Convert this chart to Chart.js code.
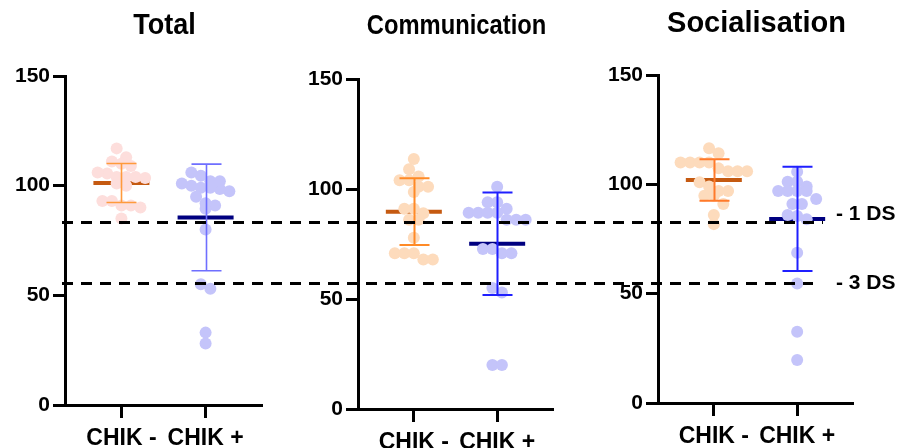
<!DOCTYPE html>
<html>
<head>
<meta charset="utf-8">
<script src="https://cdn.jsdelivr.net/npm/chart.js@4"></script>
<style>
  html, body { margin: 0; padding: 0; background: #fff; }
  body { width: 899px; height: 448px; position: relative; overflow: hidden; }
  .panel { position: absolute; top: 0; height: 448px; }
</style>
</head>
<body>
<div class="panel" style="left:0;width:300px"><canvas id="c0"></canvas></div>
<div class="panel" style="left:300px;width:290px"><canvas id="c1"></canvas></div>
<div class="panel" style="left:590px;width:309px"><canvas id="c2"></canvas></div>
<script>
// Data
const groups = ["CHIK -", "CHIK +"];
const panelTitles = ["Total", "Communication", "Socialisation"];
const yTicks = [0, 50, 100, 150];

const totalNeg = [117, 113, 110, 111, 109, 103.5, 104, 105.5, 106, 104, 104, 100, 101, 93, 91, 93, 90, 91, 85];
const totalPos = [100, 102, 97.5, 98.5, 101, 104.5, 106, 102, 99, 99, 95, 91, 89.5, 92, 80, 53, 55, 33, 28];
const commNeg = [113.6, 109, 104, 105.7, 104, 101, 101, 98.6, 91, 91, 89, 86, 86, 77.8, 68, 70.8, 70.8, 70.8, 68];
const commPos = [101, 94, 94, 91, 89.2, 89.2, 89.2, 89.2, 86, 86, 86, 70.8, 72.7, 70.8, 72.7, 53, 55, 20, 20];
const socNeg = [116.5, 114.2, 110, 110, 110, 110, 106, 106, 107.3, 106, 101, 97, 97, 99, 94.8, 94.8, 91, 86, 81.8];
const socPos = [105.8, 101.2, 101.2, 97, 97, 97, 99, 97, 91, 91, 93.3, 84, 85.5, 86, 68.7, 54.7, 32.6, 19.7];

// mean and SD as drawn (CHIK -, CHIK +)
const totalMean = [101.2, 85.5];
const totalSd = [8.9, 24.3];
const commMean = [89.7, 75.1];
const commSd = [15.2, 23.3];
const socMean = [102, 84.2];
const socSd = [9.5, 23.8];

// reference lines (in Total panel units)
const dsLevels = [83.5, 55.5];
const dsLabels = ["- 1 DS", "- 3 DS"];

const FONT = "'Liberation Sans', Arial, sans-serif";

const panels = [
  {
    title: panelTitles[0], neg: totalNeg, pos: totalPos, mean: totalMean, sd: totalSd,
    left: 0, pad: { top: 76, right: 38 }, yW: 65, xH: 43,
    titleSize: 30, titleScale: 0.9, titleY: 34,
    dotColors: ["#fddedc", "#c4c4fa"], errColors: ["#ff9a3c", "#6f6fff"], errW: 1.6
  },
  {
    title: panelTitles[1], neg: commNeg, pos: commPos, mean: commMean, sd: commSd,
    left: 300, pad: { top: 79, right: 37 }, yW: 58, xH: 39,
    titleSize: 27, titleScale: 0.88, titleY: 34,
    dotColors: ["#fddbbc", "#c4c4fa"], errColors: ["#ff8a26", "#1f1fff"], errW: 2
  },
  {
    title: panelTitles[2], neg: socNeg, pos: socPos, mean: socMean, sd: socSd,
    left: 590, pad: { top: 75, right: 46 }, yW: 68, xH: 45,
    titleSize: 29, titleScale: 1.0, titleY: 32,
    dotColors: ["#fddbbc", "#c4c4fa"], errColors: ["#ff7a2a", "#1f1fff"], errW: 2
  }
];
const meanColors = ["#c55a11", "#000080"];
const dashStart = 62;
const dashEnd = [823, 813];

const charts = [];

// beeswarm rows: points closer than binPx vertically share a row
function swarm(values, cat, chart, spacingPx, binPx) {
  const xs = chart.scales.x, ys = chart.scales.y;
  const unitX = 1 / (xs.getPixelForValue(2) - xs.getPixelForValue(1));
  const order = values.map((v, i) => i).sort((a, b) => values[b] - values[a]);
  const pts = new Array(values.length);
  let row = [];
  const flush = () => {
    row.forEach((idx, k) => {
      pts[idx] = { x: cat + (k - (row.length - 1) / 2) * spacingPx * unitX, y: values[idx] };
    });
    row = [];
  };
  order.forEach(i => {
    if (row.length && ys.getPixelForValue(values[i]) - ys.getPixelForValue(values[row[0]]) >= binPx) flush();
    row.push(i);
  });
  flush();
  return pts;
}

function makeOverlay(p, idx) {
  return {
    id: "overlay" + idx,
    beforeDatasetsDraw(chart) {
      const ctx = chart.ctx, xs = chart.scales.x, ys = chart.scales.y;
      ctx.save();
      p.mean.forEach((m, i) => {
        const cx = xs.getPixelForValue(i + 1), y = ys.getPixelForValue(m);
        ctx.strokeStyle = meanColors[i];
        ctx.lineWidth = 4;
        ctx.beginPath();
        ctx.moveTo(cx - 28, y);
        ctx.lineTo(cx + 28, y);
        ctx.stroke();
      });
      ctx.restore();
    },
    afterDatasetsDraw(chart) {
      const ctx = chart.ctx, xs = chart.scales.x, ys = chart.scales.y;
      ctx.save();
      p.mean.forEach((m, i) => {
        const cx = Math.round(xs.getPixelForValue(i + 1)) + 0.5;
        const yTop = ys.getPixelForValue(m + p.sd[i]);
        const yBot = ys.getPixelForValue(m - p.sd[i]);
        ctx.strokeStyle = p.errColors[i];
        ctx.lineWidth = p.errW;
        ctx.beginPath();
        ctx.moveTo(cx, yTop); ctx.lineTo(cx, yBot);
        ctx.moveTo(cx - 15, yTop); ctx.lineTo(cx + 15, yTop);
        ctx.moveTo(cx - 15, yBot); ctx.lineTo(cx + 15, yBot);
        ctx.stroke();
      });
      ctx.restore();
    },
    afterDraw(chart) {
      const ctx = chart.ctx;
      const ref = idx === 0 ? chart : charts[0];
      ctx.save();
      // dashed reference lines across the figure
      ctx.strokeStyle = "#000";
      ctx.lineWidth = 3;
      ctx.setLineDash([11, 8]);
      dsLevels.forEach((v, k) => {
        const y = Math.round(ref.scales.y.getPixelForValue(v)) + 0.5;
        const x0 = Math.max(0, dashStart - p.left);
        const x1 = Math.min(chart.width, dashEnd[k] - p.left);
        if (x1 <= x0) return;
        ctx.lineDashOffset = x0 + p.left - dashStart;
        ctx.beginPath();
        ctx.moveTo(x0, y);
        ctx.lineTo(x1, y);
        ctx.stroke();
        if (idx === 2) {
          ctx.setLineDash([]);
          ctx.fillStyle = "#000";
          ctx.font = "bold 21px " + FONT;
          ctx.textAlign = "left";
          ctx.textBaseline = "middle";
          ctx.fillText(dsLabels[k], 836 - p.left, y + (k === 0 ? -8 : 0));
          ctx.setLineDash([11, 8]);
        }
      });
      ctx.setLineDash([]);
      // title, slightly condensed like the original face
      const a = chart.chartArea;
      ctx.fillStyle = "#000";
      ctx.font = "bold " + p.titleSize + "px " + FONT;
      ctx.textAlign = "center";
      ctx.textBaseline = "alphabetic";
      ctx.translate((a.left + a.right) / 2 + 1, p.titleY);
      ctx.scale(p.titleScale, 1);
      ctx.fillText(p.title, 0, 0);
      ctx.restore();
    }
  };
}

panels.forEach((p, idx) => {
  const chart = new Chart(document.getElementById("c" + idx), {
    type: "scatter",
    data: {
      datasets: [p.neg, p.pos].map((vals, i) => ({
        label: groups[i],
        data: vals.map(v => ({ x: i + 1, y: v })),
        backgroundColor: p.dotColors[i],
        borderWidth: 0,
        pointRadius: 6,
        pointHoverRadius: 6
      }))
    },
    options: {
      responsive: true,
      maintainAspectRatio: false,
      animation: false,
      events: [],
      layout: { padding: { top: p.pad.top, right: p.pad.right, left: 0, bottom: 0 } },
      plugins: { legend: { display: false }, tooltip: { enabled: false } },
      scales: {
        x: {
          type: "linear",
          min: 0.33,
          max: 2.67,
          afterBuildTicks: a => { a.ticks = groups.map((g, i) => ({ value: i + 1 })); },
          afterFit: a => { a.height = p.xH; },
          ticks: {
            callback: v => groups[v - 1],
            color: "#000",
            font: { family: FONT, size: 23, weight: "bold" },
            padding: 7,
            maxRotation: 0,
            autoSkip: false
          },
          grid: { drawOnChartArea: false, tickLength: 13, tickWidth: 3, tickColor: "#000" },
          border: { width: 3, color: "#000" }
        },
        y: {
          min: 0,
          max: 150,
          afterBuildTicks: a => { a.ticks = yTicks.map(v => ({ value: v })); },
          afterFit: a => { a.width = p.yW; },
          ticks: {
            color: "#000",
            font: { family: FONT, size: 21, weight: "bold" },
            padding: 3
          },
          grid: { drawOnChartArea: false, tickLength: 12, tickWidth: 3, tickColor: "#000" },
          border: { width: 3, color: "#000" }
        }
      }
    },
    plugins: [makeOverlay(p, idx)]
  });
  charts.push(chart);
  chart.data.datasets[0].data = swarm(p.neg, 1, chart, 9.5, 9);
  chart.data.datasets[1].data = swarm(p.pos, 2, chart, 9.5, 9);
  chart.update("none");
});
</script>
</body>
</html>
